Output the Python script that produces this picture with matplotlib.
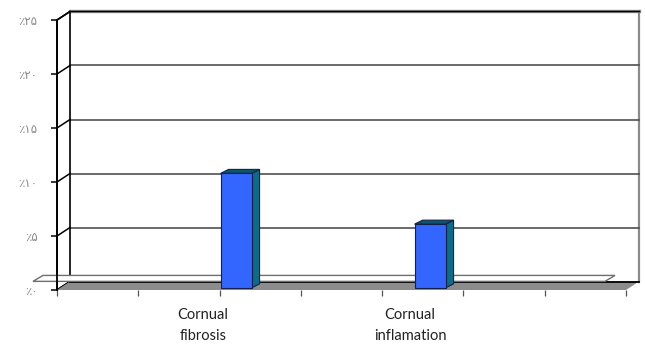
"""Pseudo-3D column chart: cornual findings (percent)."""
import matplotlib

matplotlib.use("Agg")
import matplotlib.pyplot as plt  # noqa: E402
import matplotlib.transforms as mtransforms  # noqa: E402
import numpy as np  # noqa: E402
from matplotlib.patches import Polygon  # noqa: E402

categories = ["Cornual\nfibrosis", "Cornual\ninflamation"]
values = [10.6, 5.9]
y_ticks = [0, 5, 10, 15, 20, 25]
y_tick_labels = ["٪۰", "٪۵", "٪۱۰", "٪۱۵", "٪۲۰", "٪۲۵"]
n_slots = 7

FRONT = "#3366ff"
SIDE = "#0b6c88"
TOP = "#0a566e"
EDGE = "#15204a"
FLOOR = "#8c8c8c"

W, H = 645, 347
fig = plt.figure(figsize=(W / 100, H / 100), dpi=100)
ax = fig.add_axes([57 / W, 57 / H, 569 / W, 270 / H])
x0, x1 = -0.923, 2.010
ax.set_xlim(x0, x1)
ax.set_ylim(0, 25)

# pixel -> data units
ux = (x1 - x0) / 569
uy = 25 / 270
bdx, bdy = 13 * ux, 8.5 * uy      # depth of the box
cdx, cdy = 8 * ux, 4 * uy         # depth of each column
base = 0.25 * bdy


def poly(pts, **kw):
    p = Polygon(pts, closed=True, clip_on=False, **kw)
    ax.add_patch(p)
    return p


# back wall
poly([(x0 + bdx, bdy), (x1 + bdx, bdy), (x1 + bdx, 25 + bdy), (x0 + bdx, 25 + bdy)],
     facecolor="white", edgecolor="none", zorder=1)
ax.plot([x1 + bdx, x1 + bdx], [bdy, 25 + bdy], color="#8a8a8a", lw=1.6,
        clip_on=False, zorder=1.1)
for v in y_ticks[1:-1]:
    ax.plot([x0 + bdx, x1 + bdx], [v + bdy, v + bdy], color="#505050", lw=1.2,
            clip_on=False, zorder=1.2)
ax.plot([x0 + bdx, x1 + bdx], [25 + bdy, 25 + bdy], color="#8a8a8a", lw=2.4,
        clip_on=False, zorder=1.25)
ax.plot([x0 + bdx, x1 + bdx], [25 + bdy, 25 + bdy], color="black", lw=1.0,
        clip_on=False, zorder=1.3)

# left side wall
poly([(x0, 0), (x0, 25), (x0 + bdx, 25 + bdy), (x0 + bdx, bdy)],
     facecolor="white", edgecolor="black", linewidth=1.2, zorder=1.4)
for v in y_ticks:
    ax.plot([x0, x0 + bdx], [v, v + bdy], color="black", lw=1.1,
            clip_on=False, zorder=1.5)

# floor
poly([(x0, 0), (x1, 0), (x1 + bdx, bdy), (x0 + bdx, bdy)],
     facecolor=FLOOR, edgecolor="none", zorder=2)
ax.plot([x0 + bdx, x1 + bdx], [bdy, bdy], color="black", lw=1.3,
        clip_on=False, zorder=2.1)

# thin floor plate
pl, pr = x0 - 24 * ux, x1 - 21 * ux
poly([(pl, 0.8), (pr, 0.8), (pr + 10 * ux, 1.35), (pl + 10 * ux, 1.35)],
     facecolor="white", edgecolor="#6e6e6e", linewidth=1.0, zorder=2.5)

# columns
xs = np.arange(len(values))
width = 31 * ux
ax.bar(xs, values, width=width, bottom=base, color=FRONT, edgecolor=EDGE,
       linewidth=0.8, zorder=4)
for x, v in zip(xs, values):
    r, l = x + width / 2, x - width / 2
    top = base + v
    poly([(r, base), (r + cdx, base + cdy), (r + cdx, top + cdy), (r, top)],
         facecolor=SIDE, edgecolor=EDGE, linewidth=0.8, zorder=3)
    poly([(l, top), (r, top), (r + cdx, top + cdy), (l + cdx, top + cdy)],
         facecolor=TOP, edgecolor=EDGE, linewidth=0.8, zorder=3)

# axes
for s in ("top", "right", "bottom"):
    ax.spines[s].set_visible(False)
ax.spines["left"].set_linewidth(1.3)
ax.spines["left"].set_zorder(5)
ax.set_yticks(y_ticks, y_tick_labels)
ax.tick_params(axis="y", length=4, width=1.1, color="black", pad=10,
               labelsize=8.5, labelcolor="#8a8a8a")
for lab in ax.get_yticklabels():
    lab.set_family("DejaVu Sans")

ax.set_xticks(np.linspace(x0, x1, n_slots + 1), minor=True)
ax.tick_params(axis="x", which="minor", length=4, width=0.9, color="#555555")
ax.set_xticks(xs, categories)
ax.tick_params(axis="x", which="major", length=0, pad=13, labelsize=10.5,
               labelcolor="#222222")
label_shift_px = [-33, -20]
for lab, dx in zip(ax.get_xticklabels(), label_shift_px):
    lab.set_family("Lato")
    lab.set_linespacing(1.6)
    shift = mtransforms.ScaledTranslation(dx / 100, 0, fig.dpi_scale_trans)
    lab.set_transform(lab.get_transform() + shift)

fig.savefig("out.png", dpi=100)
